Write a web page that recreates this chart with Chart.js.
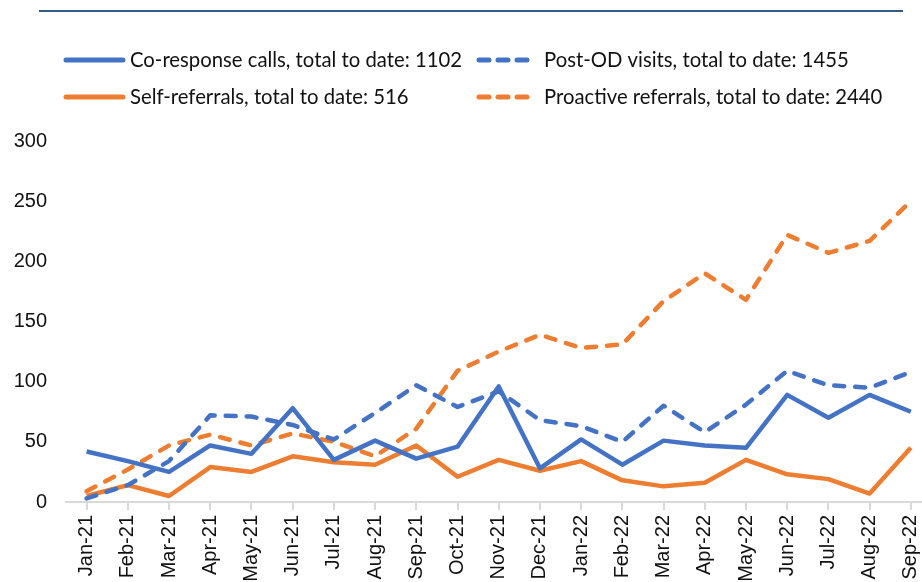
<!DOCTYPE html>
<html>
<head>
<meta charset="utf-8">
<script src="https://cdn.jsdelivr.net/npm/chart.js@4.4.1/dist/chart.umd.min.js"></script>
<style>
  html, body { margin: 0; padding: 0; background: #fff; overflow: hidden; }
  #wrap { width: 922px; height: 582px; overflow: hidden; position: relative; }
</style>
</head>
<body>
<div id="wrap"><canvas id="chart" width="940" height="582"></canvas></div>
<script>
  // months shown on the x axis
  const months = ["Jan-21", "Feb-21", "Mar-21", "Apr-21", "May-21", "Jun-21", "Jul-21",
    "Aug-21", "Sep-21", "Oct-21", "Nov-21", "Dec-21", "Jan-22", "Feb-22", "Mar-22",
    "Apr-22", "May-22", "Jun-22", "Jul-22", "Aug-22", "Sep-22"];

  // series
  const coResponse = [42, 34, 25, 47, 40, 78, 35, 51, 36, 46, 96, 28, 52, 31, 51, 47, 45, 89, 70, 89, 75];
  const postOD     = [3, 14, 34, 72, 71, 64, 52, 74, 97, 79, 92, 68, 63, 50, 80, 58, 81, 109, 97, 95, 108];
  const selfRef    = [5, 14, 5, 29, 25, 38, 33, 31, 47, 21, 35, 26, 34, 18, 13, 16, 35, 23, 19, 7, 45];
  const proactive  = [9, 27, 47, 56, 47, 57, 50, 38, 61, 109, 125, 139, 128, 131, 167, 190, 168, 222, 207, 217, 250];

  const seriesNames = [
    "Co-response calls, total to date: 1102",
    "Post-OD visits, total to date: 1455",
    "Self-referrals, total to date: 516",
    "Proactive referrals, total to date: 2440"
  ];
  const yTicks = [0, 50, 100, 150, 200, 250, 300];

  const BLUE = "#4472c4";
  const ORANGE = "#ed7d31";
  const DASH = [10, 11];

  function line(label, data, color, dashed) {
    return {
      label,
      data,
      borderColor: color,
      backgroundColor: color,
      borderWidth: 4.5,
      borderDash: dashed ? DASH : [],
      borderCapStyle: dashed ? "round" : "butt",
      borderJoinStyle: "round",
      pointRadius: 0,
      tension: 0,
      fill: false
    };
  }

  // grid-style legend + header rule, drawn on the canvas
  const legendGrid = {
    id: "legendGrid",
    afterDraw(chart) {
      const ctx = chart.ctx;
      ctx.save();
      ctx.strokeStyle = "#345a8a";
      ctx.lineWidth = 2;
      ctx.beginPath();
      ctx.moveTo(39, 11);
      ctx.lineTo(903, 11);
      ctx.stroke();

      const slots = [
        { x: 64, y: 60, tx: 130, w: 61 },
        { x: 477, y: 60, tx: 544, w: 56 },
        { x: 64, y: 97, tx: 130, w: 61 },
        { x: 477, y: 97, tx: 544, w: 56 }
      ];
      chart.data.datasets.forEach((ds, i) => {
        const s = slots[i];
        ctx.strokeStyle = ds.borderColor;
        ctx.lineWidth = 5;
        ctx.lineCap = "round";
        ctx.setLineDash(ds.borderDash.length ? [10, 9] : []);
        ctx.beginPath();
        ctx.moveTo(s.x + 2, s.y);
        ctx.lineTo(s.x + s.w - 2, s.y);
        ctx.stroke();
        ctx.setLineDash([]);
        ctx.fillStyle = "#111";
        ctx.font = "20.3px Lato";
        ctx.textBaseline = "middle";
        ctx.fillText(ds.label, s.tx, s.y);
      });
      ctx.restore();
    }
  };

  new Chart(document.getElementById("chart"), {
    type: "line",
    data: {
      labels: months,
      datasets: [
        line(seriesNames[0], coResponse, BLUE, false),
        line(seriesNames[1], postOD, BLUE, true),
        line(seriesNames[2], selfRef, ORANGE, false),
        line(seriesNames[3], proactive, ORANGE, true)
      ]
    },
    options: {
      responsive: false,
      devicePixelRatio: 1,
      animation: false,
      layout: { padding: { top: 141, right: 7, bottom: 0, left: 0 } },
      plugins: { legend: { display: false }, tooltip: { enabled: false } },
      scales: {
        x: {
          offset: true,
          grid: { display: true, drawOnChartArea: false, tickLength: 8, color: "#d9d9d9", lineWidth: 2 },
          border: { display: true, color: "#d9d9d9", width: 2 },
          ticks: {
            autoSkip: false,
            minRotation: 90,
            maxRotation: 90,
            padding: 5,
            color: "#111",
            font: { family: "Liberation Sans", size: 20 }
          },
          afterFit(scale) { scale.height = 80; }
        },
        y: {
          min: 0,
          max: 300,
          grid: { display: false, drawTicks: false },
          border: { display: false },
          afterBuildTicks(scale) { scale.ticks = yTicks.map(v => ({ value: v })); },
          ticks: {
            padding: 19,
            color: "#111",
            font: { family: "Liberation Sans", size: 20 }
          },
          afterFit(scale) { scale.width = 66; }
        }
      }
    },
    plugins: [legendGrid]
  });
</script>
</body>
</html>
